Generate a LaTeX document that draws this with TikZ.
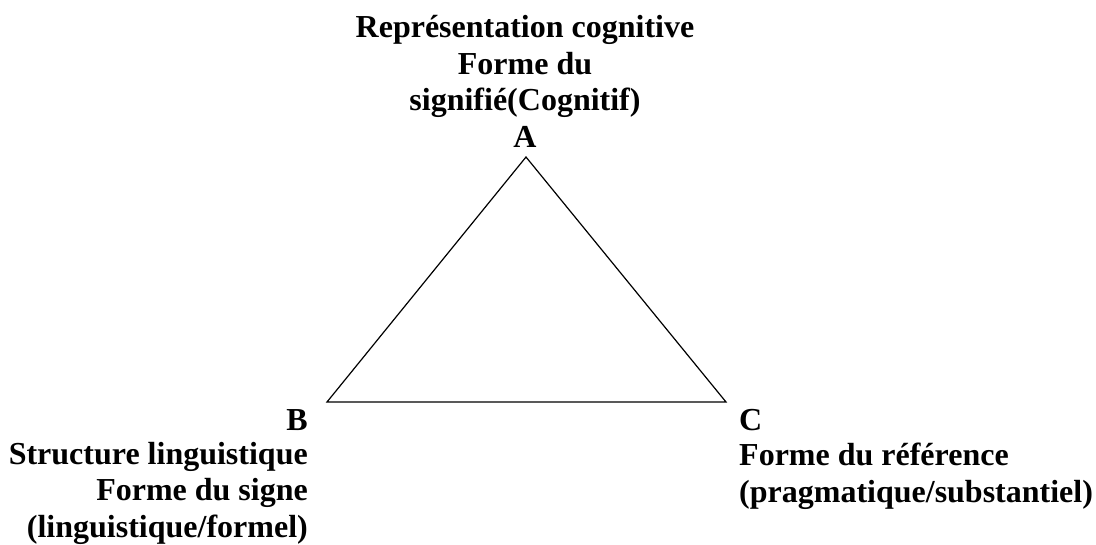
\documentclass[tikz,border=0pt]{standalone}
\usepackage{fontspec}
\setmainfont{Liberation Serif}
\begin{document}
\begin{tikzpicture}[x=1pt,y=-1pt,
  lbl/.style={inner sep=0pt,font=\bfseries\fontsize{32}{36.3}\selectfont},
  edge/.style={draw=black,line width=1.2pt,line join=miter}]
\useasboundingbox (0,0) rectangle (1096,544);
\coordinate (A) at (526,157);
\coordinate (B) at (327,402);
\coordinate (C) at (726,402);
\draw[edge] (A) -- (B) -- (C) -- cycle;
\node[lbl,anchor=base,align=center] (topl) at (525,110.5) {Représentation cognitive\\Forme du\\signifié(Cognitif)};
\node[lbl,anchor=base] (la) at (525,147.7) {A};
\node[lbl,anchor=base east] (lb) at (308,430) {B};
\node[lbl,anchor=base east,align=right] (bl) at (308,537) {Structure linguistique\\Forme du signe\\(linguistique/formel)};
\node[lbl,anchor=base west] (lc) at (739,430) {C};
\node[lbl,anchor=base west,align=left] (cl) at (739,502) {Forme du référence\\(pragmatique/substantiel)};
\end{tikzpicture}
\end{document}
